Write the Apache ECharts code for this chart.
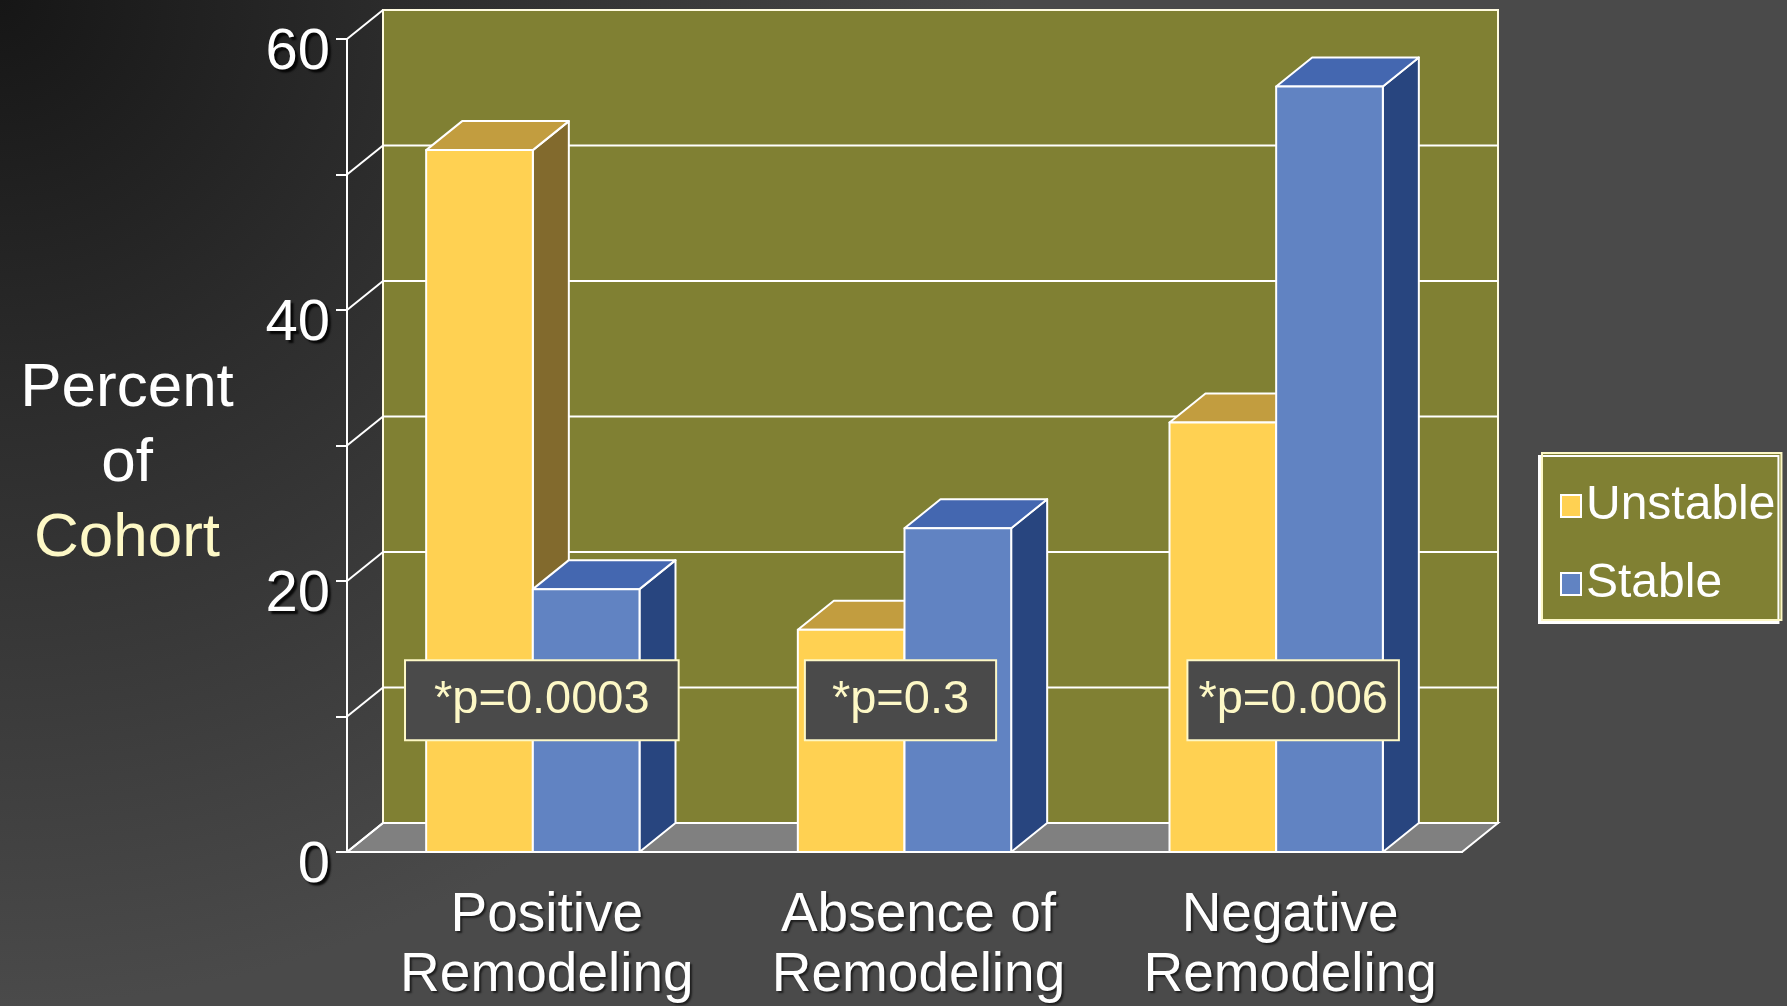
<!DOCTYPE html>
<html><head><meta charset="utf-8">
<script src="https://cdn.jsdelivr.net/npm/echarts@6/dist/echarts.min.js"></script>
<style>html,body{margin:0;padding:0;background:#4a4a4a}#c{width:1787px;height:1006px}</style>
</head><body><div id="c"></div>
<script>
// ---- data ----
const categories = ['Positive\nRemodeling', 'Absence of\nRemodeling', 'Negative\nRemodeling'];
const seriesNames = ['Unstable', 'Stable'];
const unstableValues = [51.8, 16.4, 31.7];
const stableValues = [19.4, 23.9, 56.5];
const pValueLabels = ['*p=0.0003', '*p=0.3', '*p=0.006'];
const yTickLabels = ['0', '20', '40', '60'];
const yMin = 0, yMax = 60, yStep = 10;

// ---- style constants ----
const FONT = "'Liberation Sans', Arial, sans-serif";
const DX = 36, DY = -29;          // 3D depth
const BAR_FRAC = 0.287;           // bar width as share of category band
const CREAM = '#FDF8C6';
const unstableColors = {front: '#FFD152', top: '#C29D3F', side: '#826A2D'};
const stableColors = {front: '#6183C2', top: '#4467B0', side: '#28457F'};
const pBoxLevel = 11.2;
const pBoxShift = [9, -4, 17];
const pBoxPad = [28, 26, 10];

function barRenderer(colors, side) {
  return function (params, api) {
    const idx = api.value(0), val = api.value(1);
    const base = api.coord([idx, 0]);
    const top = api.coord([idx, val]);
    const band = api.size([1, 0])[0];
    const w = band * BAR_FRAC;
    const x0 = side === 0 ? base[0] - w : base[0];
    const x1 = x0 + w;
    const yT = top[1], yB = base[1];
    const st = {stroke: '#fff', lineWidth: 2, lineJoin: 'round'};
    return {type: 'group', children: [
      {type: 'polygon', shape: {points: [[x1, yT], [x1 + DX, yT + DY], [x1 + DX, yB + DY], [x1, yB]]}, style: Object.assign({fill: colors.side}, st)},
      {type: 'polygon', shape: {points: [[x0, yT], [x0 + DX, yT + DY], [x1 + DX, yT + DY], [x1, yT]]}, style: Object.assign({fill: colors.top}, st)},
      {type: 'rect', shape: {x: x0, y: yT, width: w, height: yB - yT}, style: Object.assign({fill: colors.front}, st)}
    ]};
  };
}

function frameRenderer(params, api) {
  const cs = params.coordSys;
  const L = cs.x, R = cs.x + cs.width;
  const y = v => api.coord([0, v])[1];
  const ch = [];
  ch.push({type: 'rect', shape: {x: L + DX, y: y(yMax) + DY, width: R - L, height: y(yMin) - y(yMax)},
    style: {fill: '#808033', stroke: '#FFFBE0', lineWidth: 2}});
  for (let v = yMin + yStep; v < yMax; v += yStep) {
    ch.push({type: 'line', shape: {x1: L + DX, y1: y(v) + DY, x2: R + DX, y2: y(v) + DY}, style: {stroke: '#fff', lineWidth: 2}});
  }
  ch.push({type: 'polygon', shape: {points: [[L, y(0)], [L + DX, y(0) + DY], [R + DX, y(0) + DY], [R, y(0)]]},
    style: {fill: '#808080', stroke: '#fff', lineWidth: 2}});
  for (let v = yMin; v <= yMax; v += yStep) {
    ch.push({type: 'line', shape: {x1: L, y1: y(v), x2: L + DX, y2: y(v) + DY}, style: {stroke: '#fff', lineWidth: 2}});
  }
  return {type: 'group', children: ch};
}

function pRenderer(params, api) {
  const idx = api.value(0);
  const c = api.coord([idx, pBoxLevel]);
  return {type: 'text', x: c[0] + pBoxShift[idx], y: c[1], z2: 10,
    style: {text: pValueLabels[idx], fill: CREAM, font: '47px ' + FONT, align: 'center', verticalAlign: 'middle',
      lineHeight: 50, backgroundColor: '#4a4a4a', borderColor: CREAM, borderWidth: 2, padding: [14, pBoxPad[idx]]}};
}

const yLabelStyle = {color: '#fff', fontSize: 58, fontFamily: FONT, padding: [28, 0, 0, 0],
  textShadowColor: 'rgba(0,0,0,0.85)', textShadowOffsetX: 3, textShadowOffsetY: 3, textShadowBlur: 2};

const chart = echarts.init(document.getElementById('c'), null, {renderer: 'canvas'});
chart.setOption({
  animation: false,
  backgroundColor: {type: 'radial', x: 0, y: 0, r: 1.0,
    colorStops: [{offset: 0, color: '#161616'}, {offset: 0.4, color: '#2c2c2c'}, {offset: 1, color: '#4a4a4a'}]},
  grid: {left: 347, right: 325, top: 39, bottom: 152},
  xAxis: {type: 'category', data: categories,
    axisLine: {lineStyle: {color: '#fff', width: 2}},
    axisTick: {length: 14, lineStyle: {color: '#fff', width: 2}},
    axisLabel: {interval: 0, hideOverlap: false, color: '#fff', fontSize: 55, lineHeight: 60, fontFamily: FONT, margin: 34, padding: [0, 0, 0, 28],
      textShadowColor: 'rgba(0,0,0,0.6)', textShadowOffsetX: 2, textShadowOffsetY: 2, textShadowBlur: 2}},
  yAxis: {type: 'value', min: yMin, max: yMax, interval: yStep,
    axisLine: {show: true, lineStyle: {color: '#fff', width: 2}},
    axisTick: {show: true, length: 11, lineStyle: {color: '#fff', width: 2}},
    splitLine: {show: false},
    axisLabel: {margin: 17,
      formatter: v => yTickLabels.indexOf(String(v)) >= 0 ? '{a|' + v + '}' : '',
      rich: {a: yLabelStyle}}},
  legend: {data: seriesNames, orient: 'vertical', left: 1542, top: 453,
    padding: [28, 6, 11, 18], itemWidth: 20, itemHeight: 22, itemGap: 28, icon: 'rect',
    backgroundColor: '#808033', borderColor: CREAM, borderWidth: 2,
    shadowColor: '#ffffff', shadowOffsetX: -3, shadowOffsetY: 3, shadowBlur: 0,
    itemStyle: {borderColor: '#fff', borderWidth: 2},
    textStyle: {color: '#fff', fontSize: 48, lineHeight: 50, fontFamily: FONT}},
  graphic: [{type: 'text', x: 127, y: 351, style: {
    text: '{w|Percent}\n{w|of}\n{y|Cohort}', align: 'center', verticalAlign: 'top',
    rich: {w: {fill: '#fff', fontSize: 62, lineHeight: 75, fontFamily: FONT},
           y: {fill: CREAM, fontSize: 62, lineHeight: 75, fontFamily: FONT}}}}],
  series: [
    {type: 'custom', name: 'frame', silent: true, z: 1, renderItem: frameRenderer, data: [[0, 0]], encode: {x: 0, y: 1}},
    {type: 'custom', name: seriesNames[0], z: 2, itemStyle: {color: unstableColors.front},
      renderItem: barRenderer(unstableColors, 0), data: unstableValues.map((v, i) => [i, v]), encode: {x: 0, y: 1}},
    {type: 'custom', name: seriesNames[1], z: 3, itemStyle: {color: stableColors.front},
      renderItem: barRenderer(stableColors, 1), data: stableValues.map((v, i) => [i, v]), encode: {x: 0, y: 1}},
    {type: 'custom', name: 'pvalues', silent: true, z: 4, renderItem: pRenderer,
      data: pValueLabels.map((t, i) => [i, pBoxLevel]), encode: {x: 0, y: 1}}
  ]
});
</script></body></html>
